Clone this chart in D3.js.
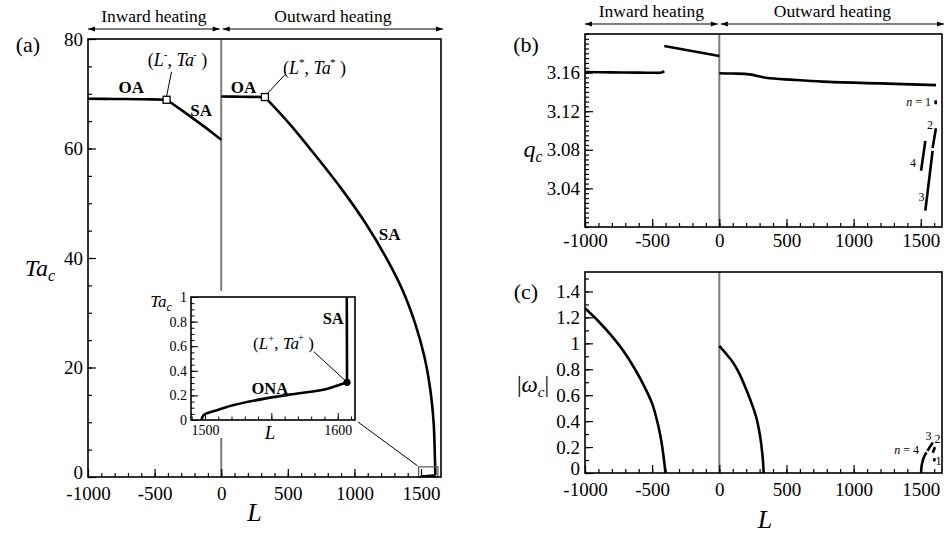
<!DOCTYPE html>
<html><head><meta charset="utf-8">
<script src="https://cdn.jsdelivr.net/npm/d3@7"></script>
<style>
body{margin:0;background:#fff}
svg{display:block;font-family:"Liberation Serif","Times New Roman",serif}
</style></head><body>
<svg id="chart" width="945" height="534"></svg>
<script>
// ---------- data ----------
// shared L ticks
const xMajorTicks = [-1000, -500, 0, 500, 1000, 1500];
const taTicks = [0, 20, 40, 60, 80];
const qTicks = [3.04, 3.08, 3.12, 3.16];
const omegaTicks = [0, 0.2, 0.4, 0.6, 0.8, 1, 1.2, 1.4];
const insetTaTicks = [0, 0.2, 0.4, 0.6, 0.8, 1];
const insetLTicks = [1500, 1600];

// (a) critical Taylor number, [L, Ta_c]
const taInwardOA = [[-1000, 69.1], [-800, 69.05], [-600, 69.0], [-410, 68.9]];
const taInwardSA = [[-410, 68.9], [-300, 67.05], [-150, 64.4], [-60, 62.75], [0, 61.6]];
const taOutwardOA = [[0, 69.5], [150, 69.45], [328, 69.4]];
const taOutwardSA = [[328, 69.4], [510, 64.6], [715, 58.5], [910, 52.4], [1085, 46.3], [1235, 40.2],
  [1360, 34.2], [1455, 28.1], [1525, 22.0], [1570, 15.9], [1595, 9.8], [1604, 3.7], [1606.5, 1.5],
  [1606.8, 1.0], [1607, 0.31]];
const taONA = [[1497.5, 0], [1499, 0.04], [1509, 0.08], [1521, 0.12], [1546, 0.176], [1571, 0.217],
  [1591, 0.25], [1601, 0.285], [1607, 0.306]];
const pointMinus = [-410, 68.9];
const pointStar = [328, 69.4];
const pointPlus = [1607, 0.306];

// (b) critical wavenumber, [L, q_c]
const qInwardLow = [[-1000, 3.1606], [-800, 3.1602], [-600, 3.1600], [-480, 3.1598], [-430, 3.1600], [-410, 3.1615]];
const qInwardHigh = [[-410, 3.1876], [0, 3.1772]];
const qOutward = [[0, 3.1593], [100, 3.1590], [223, 3.1582], [348, 3.1547], [550, 3.1525], [769, 3.1506],
  [1200, 3.1488], [1614, 3.1470]];
const qMode1 = [[1611, 3.1313], [1611, 3.1272]];
const qMode2 = [[1613, 3.1023], [1588, 3.0818]];
const qMode3 = [[1588, 3.0789], [1534, 3.0169]];
const qMode4 = [[1534, 3.0893], [1502, 3.0583]];

// (c) critical frequency, [L, |omega_c|]
const wInward = [[-1000, 1.27], [-900, 1.17], [-800, 1.055], [-700, 0.92], [-600, 0.75], [-550, 0.65],
  [-500, 0.535], [-470, 0.43], [-447, 0.33], [-430, 0.235], [-420, 0.165], [-410, 0.085], [-404, 0.03], [-402, 0]];
const wOutward = [[0, 0.98], [50, 0.92], [100, 0.855], [150, 0.765], [200, 0.645], [250, 0.51],
  [275, 0.43], [295, 0.335], [310, 0.24], [320, 0.15], [326, 0.08], [330, 0]];
const wMode4 = [[1502, 0], [1505, 0.04], [1512, 0.085], [1525, 0.125], [1542, 0.16]];
const wMode3 = [[1550, 0.17], [1570, 0.205], [1590, 0.235]];
const wMode2 = [[1589, 0.157], [1606, 0.20]];
const wMode1 = [[1600, 0.09], [1602, 0.115]];

// ---------- drawing ----------
const svg = d3.select("#chart");
const FONT = "'Liberation Serif','Times New Roman',serif";

const defs = svg.append("defs");
defs.append("marker").attr("id", "ah").attr("viewBox", "0 0 10 10").attr("refX", 10).attr("refY", 5)
  .attr("markerWidth", 9).attr("markerHeight", 7).attr("markerUnits", "userSpaceOnUse")
  .attr("orient", "auto-start-reverse")
  .append("path").attr("d", "M0,1.5L10,5L0,8.5Z").attr("fill", "#000");

function clip(id, box) {
  defs.append("clipPath").attr("id", id).append("rect")
    .attr("x", box.l).attr("y", box.t).attr("width", box.r - box.l).attr("height", box.b - box.t);
}

function axes(g, x, y, box, o) {
  const fmt = d => String(d);
  const styleAx = s => {
    s.select(".domain").remove();
    s.selectAll("line").attr("stroke", "#000").attr("stroke-width", o.tickW || 1.2);
    s.selectAll("text").attr("font-family", FONT).attr("font-size", o.fs).attr("fill", "#000");
  };
  g.append("g").attr("transform", `translate(0,${box.b})`)
    .call(d3.axisBottom(x).tickValues(o.xMinor).tickSize(-o.minLen).tickFormat("")).call(styleAx);
  g.append("g").attr("transform", `translate(0,${box.b})`)
    .call(d3.axisBottom(x).tickValues(o.xMajor).tickSize(-o.majLen).tickPadding(o.padX).tickFormat(o.xFmt || fmt))
    .call(styleAx);
  g.append("g").attr("transform", `translate(${box.l},0)`)
    .call(d3.axisLeft(y).tickValues(o.yMinor).tickSize(-o.minLen).tickFormat("")).call(styleAx);
  const yAx = g.append("g").attr("transform", `translate(${box.l},0)`)
    .call(d3.axisLeft(y).tickValues(o.yMajor).tickSize(-o.majLen).tickPadding(o.padY).tickFormat(o.yFmt || fmt))
    .call(styleAx);
  // the lowest label sits just above the corner so it clears the L labels
  if (o.lift) yAx.selectAll(".tick text").filter(d => d === o.yMajor[0]).attr("y", -o.lift);
}

function frame(g, box, w) {
  g.append("rect").attr("x", box.l).attr("y", box.t).attr("width", box.r - box.l).attr("height", box.b - box.t)
    .attr("fill", "none").attr("stroke", "#000").attr("stroke-width", w || 1.6);
}

function curve(g, data, x, y, clipId, w) {
  g.append("path").datum(data)
    .attr("d", d3.line().x(d => x(d[0])).y(d => y(d[1])).curve(d3.curveCatmullRom.alpha(0.5)))
    .attr("fill", "none").attr("stroke", "#000").attr("stroke-width", w || 2.6)
    .attr("stroke-linejoin", "round").attr("stroke-linecap", "butt")
    .attr("clip-path", clipId ? `url(#${clipId})` : null);
}

function header(g, box, x, yArrow, yText) {
  const x0 = x(0);
  const parts = [["Inward heating", box.l, x0 - 1.5], ["Outward heating", x0 + 1.5, box.r + 2]];
  parts.forEach(([t, a, b]) => {
    g.append("line").attr("x1", a).attr("x2", b).attr("y1", yArrow).attr("y2", yArrow)
      .attr("stroke", "#000").attr("stroke-width", 1.1)
      .attr("marker-start", "url(#ah)").attr("marker-end", "url(#ah)");
    g.append("text").attr("x", (a + b) / 2).attr("y", yText).attr("text-anchor", "middle")
      .attr("font-size", 17.5).text(t);
  });
}

function divider(g, x, y0, y1) {
  g.append("line").attr("x1", x).attr("x2", x).attr("y1", y0).attr("y2", y1)
    .attr("stroke", "#7c7c7c").attr("stroke-width", 2);
}

function pointLabel(g, px, py, sup, size) {
  const t = g.append("text").attr("x", px).attr("y", py).attr("text-anchor", "middle").attr("font-size", size);
  t.append("tspan").text("(");
  t.append("tspan").attr("font-style", "italic").text("L");
  t.append("tspan").attr("font-size", size * 0.62).attr("dy", -size * 0.42).text(sup);
  t.append("tspan").attr("dy", size * 0.42).text(", ");
  t.append("tspan").attr("font-style", "italic").text("Ta");
  t.append("tspan").attr("font-size", size * 0.62).attr("dy", -size * 0.45).attr("dx", -1).text(sup);
  t.append("tspan").attr("dy", size * 0.45).text(" )");
}

function boldLabel(g, px, py, text, size) {
  g.append("text").attr("x", px).attr("y", py).attr("dy", "0.35em").attr("text-anchor", "middle")
    .attr("font-weight", "bold").attr("font-size", size).text(text);
}

const root = svg.append("g").attr("font-family", FONT).attr("fill", "#000");

// ===== panel (a) =====
const A = {l: 88, r: 441, t: 39, b: 477};
const xa = d3.scaleLinear().domain([-1000, 1650]).range([A.l, A.r]);
const ya = d3.scaleLinear().domain([0, 80]).range([A.b, A.t]);
clip("clipA", A);
const ga = root.append("g");
divider(ga, xa(0), A.t, A.b);
[taInwardOA, taInwardSA, taOutwardOA, taOutwardSA, taONA].forEach(d => curve(ga, d, xa, ya, "clipA"));

// zoom box near the end of the SA branch and its leader line
const zoomBox = {L0: 1482, L1: 1627, T0: 0, T1: 1.85};
ga.append("rect").attr("x", xa(zoomBox.L0)).attr("y", ya(zoomBox.T1))
  .attr("width", xa(zoomBox.L1) - xa(zoomBox.L0)).attr("height", ya(zoomBox.T0) - ya(zoomBox.T1))
  .attr("fill", "none").attr("stroke", "#555").attr("stroke-width", 1.2);

[pointMinus, pointStar].forEach(p => {
  ga.append("rect").attr("x", xa(p[0]) - 3.5).attr("y", ya(p[1]) - 3.5).attr("width", 7).attr("height", 7)
    .attr("fill", "#fff").attr("stroke", "#000").attr("stroke-width", 1.3);
});
// leader lines of the transition points
ga.append("line").attr("x1", xa(-373)).attr("y1", ya(74.0)).attr("x2", xa(pointMinus[0])).attr("y2", ya(pointMinus[1]) - 3.5)
  .attr("stroke", "#000").attr("stroke-width", 1);
ga.append("line").attr("x1", xa(475)).attr("y1", ya(73.4)).attr("x2", xa(pointStar[0]) + 2).attr("y2", ya(pointStar[1]) - 3)
  .attr("stroke", "#000").attr("stroke-width", 1);
pointLabel(ga, xa(-328), ya(76.2) + 6, "-", 18);
pointLabel(ga, xa(700), ya(74.7) + 6, "*", 18);
boldLabel(ga, xa(-675), ya(71.2), "OA", 17);
boldLabel(ga, xa(167), ya(71.2), "OA", 17);
boldLabel(ga, xa(-150), ya(67.0), "SA", 17);
boldLabel(ga, xa(1265), ya(44.4), "SA", 17);

axes(ga, xa, ya, A, {
  xMajor: xMajorTicks, xMinor: d3.range(-1000, 1700, 100),
  yMajor: taTicks, yMinor: d3.range(0, 81, 5),
  majLen: 8, minLen: 4, padX: 10, padY: 5, fs: 19, lift: 4.5
});
frame(ga, A);
header(ga, A, xa, 29, 22);
ga.append("text").attr("x", 28).attr("y", 52).attr("text-anchor", "middle").attr("font-size", 22).text("(a)");
{
  const t = ga.append("text").attr("x", 40).attr("y", 276).attr("text-anchor", "middle").attr("font-size", 24).attr("font-style", "italic");
  t.append("tspan").text("Ta");
  t.append("tspan").attr("font-size", 16).attr("dy", 5).text("c");
}
ga.append("text").attr("x", xa(250)).attr("y", 521).attr("text-anchor", "middle").attr("font-size", 26)
  .attr("font-style", "italic").text("L");

// ----- inset of panel (a) -----
const I = {l: 191, r: 355, t: 297, b: 420};
const xi = d3.scaleLinear().domain([1489.5, 1613]).range([I.l, I.r]);
const yi = d3.scaleLinear().domain([0, 1]).range([I.b, I.t]);
clip("clipI", I);
const gi = root.append("g");
gi.append("rect").attr("x", 148).attr("y", 291).attr("width", 212).attr("height", 147).attr("fill", "#fff");
// leader from the inset to the zoom box
gi.append("line").attr("x1", I.r + 3).attr("y1", I.b + 2).attr("x2", xa(zoomBox.L0) - 1).attr("y2", ya(zoomBox.T1) - 1)
  .attr("stroke", "#000").attr("stroke-width", 1);
curve(gi, taOutwardSA, xi, yi, "clipI", 2.6);
curve(gi, taONA, xi, yi, "clipI", 2.6);
gi.append("circle").attr("cx", xi(pointPlus[0])).attr("cy", yi(pointPlus[1])).attr("r", 3.6).attr("fill", "#000");
gi.append("line").attr("x1", xi(1582)).attr("y1", yi(0.555)).attr("x2", xi(pointPlus[0]) - 2).attr("y2", yi(pointPlus[1]) - 2)
  .attr("stroke", "#000").attr("stroke-width", 1);
pointLabel(gi, xi(1559.2), yi(0.626) + 6, "+", 17);
boldLabel(gi, xi(1596.6), yi(0.827), "SA", 16.5);
boldLabel(gi, xi(1548.9), yi(0.26), "ONA", 16.5);
axes(gi, xi, yi, I, {
  xMajor: insetLTicks, xMinor: d3.range(1490, 1614, 10),
  yMajor: insetTaTicks, yMinor: d3.range(0, 1.001, 0.05),
  majLen: 7, minLen: 3.5, padX: 5, padY: 4, fs: 14, tickW: 1
});
gi.append("g").attr("transform", `translate(0,${I.b})`)
  .call(d3.axisBottom(xi).tickValues([1550]).tickSize(-7).tickFormat(""))
  .call(s => { s.select(".domain").remove(); s.selectAll("line").attr("stroke", "#000"); });
frame(gi, I, 1.6);
{
  const t = gi.append("text").attr("x", 161).attr("y", 307).attr("text-anchor", "middle").attr("font-size", 17).attr("font-style", "italic");
  t.append("tspan").text("Ta");
  t.append("tspan").attr("font-size", 12).attr("dy", 4).text("c");
}
gi.append("text").attr("x", xi(1549)).attr("y", 439).attr("text-anchor", "middle").attr("font-size", 19)
  .attr("font-style", "italic").text("L");

// ===== panel (b) =====
const B = {l: 585, r: 942, t: 34, b: 227};
const xb = d3.scaleLinear().domain([-1000, 1658]).range([B.l, B.r]);
const yb = d3.scaleLinear().domain([3.0, 3.2]).range([B.b, B.t]);
clip("clipB", B);
const gb = root.append("g");
divider(gb, xb(0), B.t, B.b);
[qInwardLow, qInwardHigh, qOutward, qMode1, qMode2, qMode3, qMode4].forEach(d => curve(gb, d, xb, yb, "clipB", 2.6));
{
  const t = gb.append("text").attr("x", 931).attr("y", 106).attr("text-anchor", "end").attr("font-size", 12);
  t.append("tspan").attr("font-style", "italic").text("n");
  t.append("tspan").text(" = 1");
  gb.append("text").attr("x", 930).attr("y", 129).attr("text-anchor", "middle").attr("font-size", 12).text("2");
  gb.append("text").attr("x", 913).attr("y", 167).attr("text-anchor", "middle").attr("font-size", 12).text("4");
  gb.append("text").attr("x", 921.5).attr("y", 201).attr("text-anchor", "middle").attr("font-size", 12).text("3");
}
axes(gb, xb, yb, B, {
  xMajor: xMajorTicks, xMinor: d3.range(-1000, 1700, 100),
  yMajor: qTicks, yMinor: d3.range(3.0, 3.2001, 0.005),
  majLen: 8, minLen: 4, padX: 7, padY: 5, fs: 19, yFmt: d => d.toFixed(2)
});
frame(gb, B);
header(gb, B, xb, 24, 17);
gb.append("text").attr("x", 526).attr("y", 52).attr("text-anchor", "middle").attr("font-size", 22).text("(b)");
{
  const t = gb.append("text").attr("x", 533).attr("y", 157).attr("text-anchor", "middle").attr("font-size", 24).attr("font-style", "italic");
  t.append("tspan").text("q");
  t.append("tspan").attr("font-size", 16).attr("dy", 5).text("c");
}

// ===== panel (c) =====
const C = {l: 585, r: 942, t: 272, b: 473};
const xc = d3.scaleLinear().domain([-1000, 1658]).range([C.l, C.r]);
const yc = d3.scaleLinear().domain([0, 1.55]).range([C.b, C.t]);
clip("clipC", C);
const gc = root.append("g");
divider(gc, xc(0), C.t, C.b);
[wInward, wOutward, wMode4, wMode3, wMode2, wMode1].forEach(d => curve(gc, d, xc, yc, "clipC", 2.6));
{
  const t = gc.append("text").attr("x", 919).attr("y", 454).attr("text-anchor", "end").attr("font-size", 12);
  t.append("tspan").attr("font-style", "italic").text("n");
  t.append("tspan").text(" = 4");
  gc.append("text").attr("x", 928.5).attr("y", 440).attr("text-anchor", "middle").attr("font-size", 12).text("3");
  gc.append("text").attr("x", 937.5).attr("y", 443).attr("text-anchor", "middle").attr("font-size", 12).text("2");
  gc.append("text").attr("x", 938.5).attr("y", 465).attr("text-anchor", "middle").attr("font-size", 12).text("1");
}
axes(gc, xc, yc, C, {
  xMajor: xMajorTicks, xMinor: d3.range(-1000, 1700, 100),
  yMajor: omegaTicks, yMinor: d3.range(0, 1.55, 0.1),
  majLen: 8, minLen: 4, padX: 10, padY: 5, fs: 19, lift: 4.5
});
frame(gc, C);
gc.append("text").attr("x", 526).attr("y", 299).attr("text-anchor", "middle").attr("font-size", 22).text("(c)");
{
  const t = gc.append("text").attr("x", 533).attr("y", 392).attr("text-anchor", "middle").attr("font-size", 23);
  t.append("tspan").text("|");
  t.append("tspan").attr("font-style", "italic").text("ω");
  t.append("tspan").attr("font-size", 15).attr("font-style", "italic").attr("dy", 5).text("c");
  t.append("tspan").attr("dy", -5).text("|");
}
gc.append("text").attr("x", xc(340)).attr("y", 528).attr("text-anchor", "middle").attr("font-size", 26)
  .attr("font-style", "italic").text("L");
</script>
</body></html>
